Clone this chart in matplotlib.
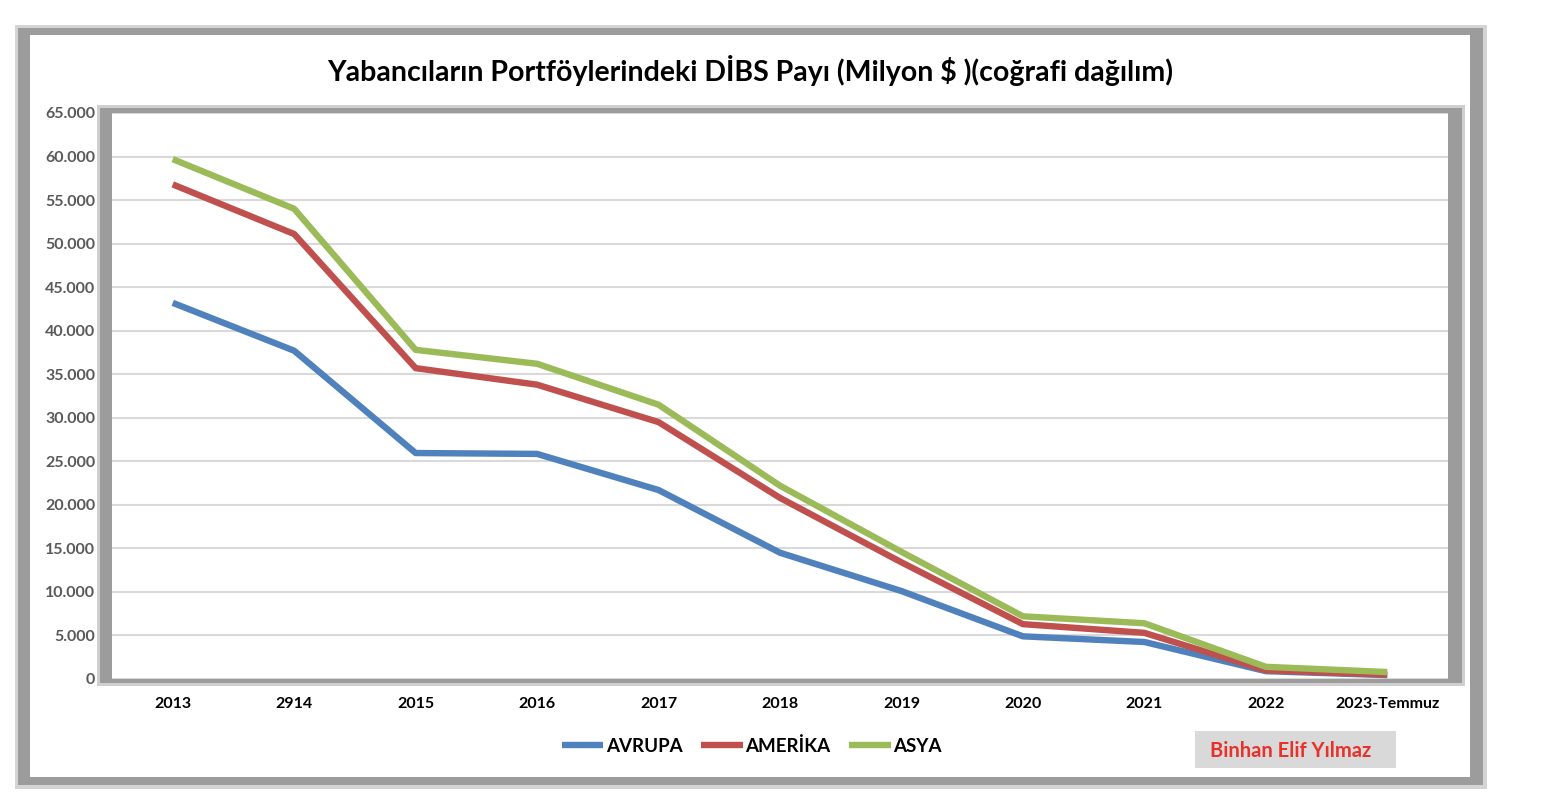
import matplotlib
matplotlib.use("Agg")
import matplotlib.pyplot as plt
from matplotlib.patches import Rectangle
from matplotlib.ticker import FuncFormatter, MultipleLocator

plt.rcParams['font.family'] = ['Lato', 'DejaVu Sans']

categories = ["2013", "2914", "2015", "2016", "2017", "2018", "2019", "2020", "2021", "2022", "2023-Temmuz"]
avrupa = [43200, 37700, 25950, 25850, 21700, 14500, 10100, 4900, 4250, 900, 450]
amerika = [56800, 51100, 35700, 33800, 29500, 20800, 13400, 6300, 5300, 1000, 500]
asya = [59700, 54000, 37800, 36200, 31500, 22200, 14600, 7200, 6400, 1400, 800]
series_names = ["AVRUPA", "AMERİKA", "ASYA"]
colors = ["#4f81bd", "#c0504d", "#9bbb59"]
title = "Yabancıların Portföylerindeki DİBS Payı (Milyon $ )(coğrafi dağılım)"
author = "Binhan Elif Yılmaz"

W, H = 1566, 810
fig = plt.figure(figsize=(W / 100, H / 100), dpi=100)

def px_rect(x0, y0, x1, y1, **kw):
    r = Rectangle((x0 / W, 1 - y1 / H), (x1 - x0) / W, (y1 - y0) / H,
                  transform=fig.transFigure, **kw)
    fig.add_artist(r)
    return r

# outer frame with soft shadow
px_rect(15, 25, 1487, 789, facecolor="#d4d4d4", edgecolor="none", zorder=-5)
px_rect(18, 28, 1483, 785, facecolor="#9c9c9c", edgecolor="none", zorder=-4)
px_rect(30, 35, 1470, 777, facecolor="white", edgecolor="none", zorder=-3)
# plot area shadow frame
px_rect(97, 105, 1465, 686, facecolor="#cfcfcf", edgecolor="none", zorder=-2)
px_rect(100, 108, 1462, 683, facecolor="#9c9c9c", edgecolor="none", zorder=-1)

ax = fig.add_axes([112 / W, 1 - 679 / H, (1448 - 112) / W, (679 - 113) / H])
ax.set_facecolor("white")
x = list(range(len(categories)))
for vals, name, c in zip([avrupa, amerika, asya], series_names, colors):
    ax.plot(x, vals, color=c, lw=4.6, label=name, solid_capstyle="butt", zorder=3)

ax.set_xlim(-0.5, len(categories) - 0.5)
ax.set_ylim(0, 65000)
ax.yaxis.set_major_locator(MultipleLocator(5000))
ax.yaxis.set_major_formatter(FuncFormatter(lambda v, p: f"{v:,.0f}".replace(",", ".")))
ax.set_xticks(x)
ax.set_xticklabels(categories)
ax.grid(axis="y", color="#d9d9d9", lw=1.5, zorder=0)
ax.set_axisbelow(True)
for s in ax.spines.values():
    s.set_visible(False)
ax.tick_params(axis="y", length=0, pad=12, labelsize=11.5, labelcolor="#595959")
ax.tick_params(axis="x", length=0, pad=13, labelsize=11.5, labelcolor="black")
for lab in ax.get_yticklabels() + ax.get_xticklabels():
    lab.set_fontweight("bold")

fig.text(750 / W, 1 - 70 / H, title, ha="center", va="center",
         fontsize=20.5, fontweight="bold", color="black")

leg = fig.legend(loc="center", bbox_to_anchor=(752 / W, 1 - 746 / H), ncol=3,
                 frameon=False, handlelength=2.2, handletextpad=0.15,
                 columnspacing=1.0, prop={"weight": "bold", "size": 13.5})

px_rect(1195, 731, 1396, 768, facecolor="#d9d9d9", edgecolor="none", zorder=1)
fig.text(1291 / W, 1 - 751 / H, author, ha="center", va="center",
         fontsize=14.5, fontweight="bold", color="#e8312a", zorder=2)

fig.savefig("out.png", dpi=100)
